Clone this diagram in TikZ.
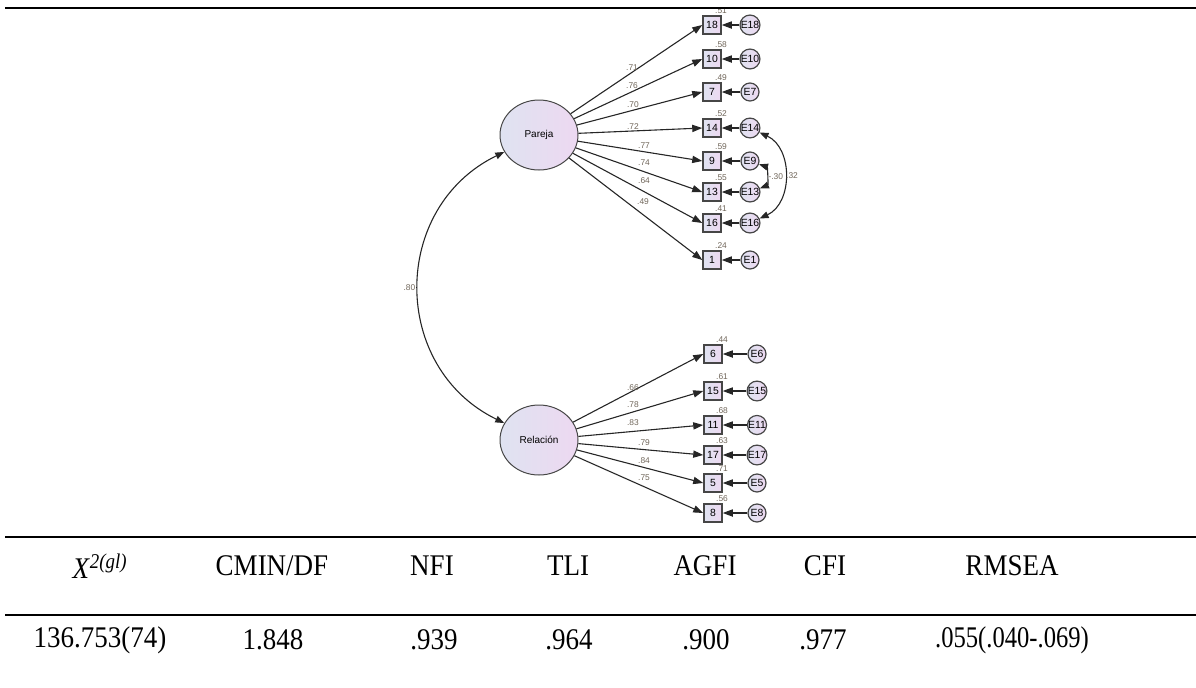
\documentclass[tikz,border=0pt]{standalone}
\usepackage{fontspec}
\setmainfont{Liberation Serif}
\newfontfamily\amosfont{Liberation Sans}
\usepackage{graphicx}
\usepackage{tikz}
\usetikzlibrary{
  arrows.meta,
  shapes.geometric
}
\definecolor{lavleft}{RGB}{223,227,241}
\definecolor{lavright}{RGB}{237,216,241}
\definecolor{edgegray}{RGB}{70,70,70}
\definecolor{coefbrown}{RGB}{112,102,90}

\newcommand{\narrow}[1]{\scalebox{0.9}[1]{#1}}

\tikzset{
  latent/.style={ellipse, draw=edgegray, line width=0.5pt,
    left color=lavleft, right color=lavright,
    minimum width=39pt, minimum height=35pt, inner sep=0pt,
    font=\amosfont\fontsize{5}{6}\selectfont},
  item/.style={rectangle, draw=edgegray, line width=0.75pt,
    left color=lavleft, right color=lavright,
    minimum size=9pt, inner sep=0pt,
    font=\amosfont\fontsize{5.2}{6}\selectfont},
  errterm/.style={circle, draw=edgegray, line width=0.6pt,
    left color=lavleft, right color=lavright,
    minimum size=9pt, inner sep=0pt,
    font=\amosfont\fontsize{5.2}{6}\selectfont},
  coef/.style={inner sep=0.5pt, text=coefbrown,
    font=\amosfont\fontsize{4.2}{5}\selectfont},
  loadarrow/.style={draw=black!85, line width=0.55pt,
    -{Triangle[length=5pt,width=3.6pt]}},
  cov/.style={draw=black!85, line width=0.55pt,
    {Triangle[length=4.5pt,width=3.4pt]}-{Triangle[length=4.5pt,width=3.4pt]}},
  tabcell/.style={inner sep=0pt, font=\fontsize{15}{18}\selectfont},
  tabrule/.style={line width=1.2pt}
}

\begin{document}
\begin{tikzpicture}[x=0.5pt, y=-0.5pt]
  \useasboundingbox (0,0) rectangle (1196,687);

  % Latent factors
  \node[latent] (pareja) at (539,135) {Pareja};
  \node[latent] (relacion) at (539,440) {Relación};

  % Pareja: item / y / R2 / loading / label position
  \foreach \idx/\yy/\rsq/\lam/\lx/\ly in {
      18/25/.51/.71/632/68, 10/59/.58/.76/632/86, 7/92/.49/.70/633/105,
      14/128/.52/.72/633/127, 9/161/.59/.77/644/146, 13/192/.55/.74/644/163,
      16/223/.41/.64/644/181, 1/260/.24/.49/643/202} {
    \node[item] (v\idx) at (712,\yy) {\idx};
    \node[errterm] (e\idx) at (750,\yy) {E\idx};
    \node[coef, anchor=south] (r\idx) at ([xshift=4.5pt]v\idx.north) {\rsq};
    \draw[loadarrow] (e\idx) -- (v\idx);
    \draw[loadarrow] (pareja) -- (v\idx.west);
    \node[coef] (l\idx) at (\lx,\ly) {\lam};
  }

  % Relacion
  \foreach \idx/\yy/\rsq/\lam/\lx/\ly in {
      6/354/.44/.66/633/388, 15/391/.61/.78/633/405, 11/425/.68/.83/633/423,
      17/455/.63/.79/644/443, 5/483/.71/.84/644/461, 8/513/.56/.75/644/478} {
    \node[item] (v\idx) at (713,\yy) {\idx};
    \node[errterm] (e\idx) at (757,\yy) {E\idx};
    \node[coef, anchor=south] (r\idx) at ([xshift=4.5pt]v\idx.north) {\rsq};
    \draw[loadarrow] (e\idx) -- (v\idx);
    \draw[loadarrow] (relacion) -- (v\idx.west);
    \node[coef] (l\idx) at (\lx,\ly) {\lam};
  }

  % Covariances
  \draw[cov] (pareja) to[bend right=64, looseness=1.2]
    node[coef, left, midway, xshift=-1pt] (c80) {.80} (relacion);
  \draw[cov] (e14) to[bend left=65, looseness=1.1]
    node[coef, right, midway] (c32) {.32} (e16);
  \draw[cov] (e9) to[bend left=70, looseness=0.95]
    node[coef, right, midway, xshift=0.6pt] (c30) {-.30} (e13);

  % Fit table
  \draw[tabrule] (5,8) -- (1196,8);
  \draw[tabrule] (5,537) -- (1196,537);
  \draw[tabrule] (5,615) -- (1196,615);

  \node[tabcell] (hchi) at (100,566) {\narrow{\textit{X}\textsuperscript{\textit{2(gl)}}}};
  \node[tabcell] (hcmin) at (272,566) {\narrow{CMIN/DF}};
  \node[tabcell] (hnfi) at (432,566) {\narrow{NFI}};
  \node[tabcell] (htli) at (568,566) {\narrow{TLI}};
  \node[tabcell] (hagfi) at (705,566) {\narrow{AGFI}};
  \node[tabcell] (hcfi) at (825,566) {\narrow{CFI}};
  \node[tabcell] (hrmsea) at (1012,566) {\narrow{RMSEA}};

  \node[tabcell] (dchi) at (100,640) {\narrow{136.753(74)}};
  \node[tabcell] (dcmin) at (273,640) {\narrow{1.848}};
  \node[tabcell] (dnfi) at (434,640) {\narrow{.939}};
  \node[tabcell] (dtli) at (569,640) {\narrow{.964}};
  \node[tabcell] (dagfi) at (706,640) {\narrow{.900}};
  \node[tabcell] (dcfi) at (823,640) {\narrow{.977}};
  \node[tabcell] (drmsea) at (1012,640) {\scalebox{0.82}[1]{.055(.040-.069)}};
\end{tikzpicture}
\end{document}
